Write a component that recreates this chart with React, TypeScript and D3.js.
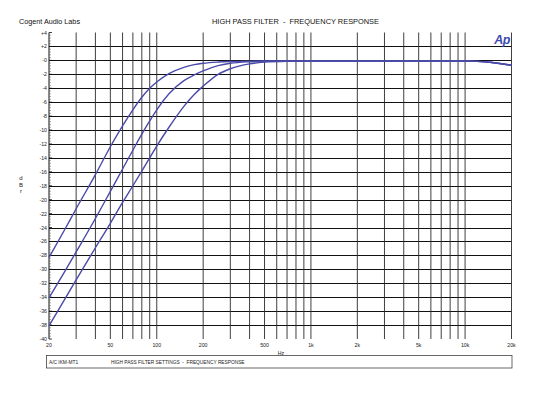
import React from "react";
import * as d3 from "d3";

const freqs = [20, 25, 30, 40, 50, 60, 70, 80, 90, 100, 120, 150, 175, 200, 250, 300, 400, 500, 700, 1000, 2000, 5000, 10000, 12000, 15000, 20000];
const curve1 = [-28.3, -24.5, -21.3, -16.4, -12.4, -9.4, -7.1, -5.3, -4.0, -3.1, -1.9, -1.0, -0.62, -0.42, -0.24, -0.16, -0.11, -0.1, -0.1, -0.1, -0.1, -0.1, -0.1, -0.15, -0.3, -0.7];
const curve2 = [-34.1, -30.5, -27.5, -22.7, -18.8, -15.6, -12.9, -10.6, -8.7, -7.1, -4.8, -2.9, -2.1, -1.5, -0.75, -0.42, -0.2, -0.13, -0.1, -0.1, -0.1, -0.1, -0.1, -0.15, -0.3, -0.7];
const curve3 = [-38.1, -34.5, -31.5, -26.9, -23.4, -20.4, -18.0, -15.9, -14.0, -12.3, -9.6, -6.6, -4.9, -3.7, -2.0, -1.2, -0.5, -0.26, -0.13, -0.1, -0.1, -0.1, -0.1, -0.15, -0.3, -0.7];
const series = [curve1, curve2, curve3];

const xGrid = [30, 40, 50, 60, 70, 80, 90, 100, 200, 300, 400, 500, 600, 700, 800, 900, 1000, 2000, 3000, 4000, 5000, 6000, 7000, 8000, 9000, 10000, 20000];
const xLabels: [number, string][] = [[20, "20"], [50, "50"], [100, "100"], [200, "200"], [500, "500"], [1000, "1k"], [2000, "2k"], [5000, "5k"], [10000, "10k"], [20000, "20k"]];
const yTicks = d3.range(4, -41, -2);
const yLabel = (v: number) => (v > 0 ? "+" + v : v === 0 ? "-0" : String(v));
const yTitle = ["d", "B", "r"];

export default function App() {
  const x = d3.scaleLog().domain([20, 20000]).range([49, 511.5]);
  const y = d3.scaleLinear().domain([4, -40]).range([32.5, 339]);
  const line = d3.line<number>().x((_, i) => x(freqs[i])).y((v) => y(v)).curve(d3.curveMonotoneX);
  const minor = d3.range(4, -40, -0.4).filter((v) => Math.abs(v - Math.round(v / 2) * 2) > 0.01);
  const font = "'Liberation Sans', Arial, sans-serif";
  return (
    <svg width={540} height={396} style={{ position: "absolute", left: 0, top: 0, background: "#fff" }} fontFamily={font}>
      <rect x={0} y={0} width={540} height={396} fill="#fff" />
      <text x={19} y={24} fontSize={7.8} fill="#111" textLength={61} lengthAdjust="spacingAndGlyphs">Cogent Audio Labs</text>
      <text x={212} y={24} fontSize={7.8} fill="#111" textLength={167} lengthAdjust="spacingAndGlyphs" xmlSpace="preserve">HIGH PASS FILTER  -  FREQUENCY RESPONSE</text>
      {yTicks.filter((v) => v < 4 && v > -40).map((v) => (
        <line key={"h" + v} x1={49} x2={511.5} y1={Math.round(y(v)) + 0.5} y2={Math.round(y(v)) + 0.5} stroke="#111" strokeWidth={1} />
      ))}
      {xGrid.map((f) => (
        <line key={"v" + f} x1={x(f)} x2={x(f)} y1={32.5} y2={339} stroke="#2a2a2a" strokeWidth={0.9} />
      ))}
      <line x1={49} x2={49} y1={32.5} y2={339} stroke="#111" strokeWidth={1} />
      {yTicks.map((v) => (
        <line key={"t" + v} x1={49} x2={52} y1={y(v)} y2={y(v)} stroke="#111" strokeWidth={0.8} />
      ))}
      {minor.map((v) => (
        <line key={"m" + v.toFixed(1)} x1={49} x2={51} y1={y(v)} y2={y(v)} stroke="#555" strokeWidth={0.5} />
      ))}
      {yTicks.map((v) => (
        <text key={"l" + v} x={47} y={y(v) + 2} fontSize={5.2} textAnchor="end" fill="#222">{yLabel(v)}</text>
      ))}
      {yTitle.map((c, i) => (
        <text key={"yt" + i} x={21} y={180 + i * 6.5} fontSize={6} textAnchor="middle" fill="#222">{c}</text>
      ))}
      {xLabels.map(([f, s]) => (
        <text key={"x" + f} x={x(f)} y={347} fontSize={5.2} textAnchor="middle" fill="#222">{s}</text>
      ))}
      <text x={281} y={355} fontSize={5.2} textAnchor="middle" fill="#222">Hz</text>
      {series.map((s, i) => (
        <path key={"c" + i} d={line(s) || ""} fill="none" stroke="#4a4aa8" strokeWidth={1.4} />
      ))}
      <text x={510} y={44} fontSize={12.5} fontWeight="bold" fontStyle="italic" textAnchor="end" fill="#3c4bb0" letterSpacing={-0.5}>Ap</text>
      <rect x={46.5} y={355.5} width={465.5} height={12.5} fill="none" stroke="#444" strokeWidth={0.8} />
      <text x={49} y={364} fontSize={4.8} fill="#222">A/C IKM-MT1</text>
      <text x={111} y={364} fontSize={4.8} fill="#222" xmlSpace="preserve">HIGH PASS FILTER SETTINGS  -  FREQUENCY RESPONSE</text>
    </svg>
  );
}
